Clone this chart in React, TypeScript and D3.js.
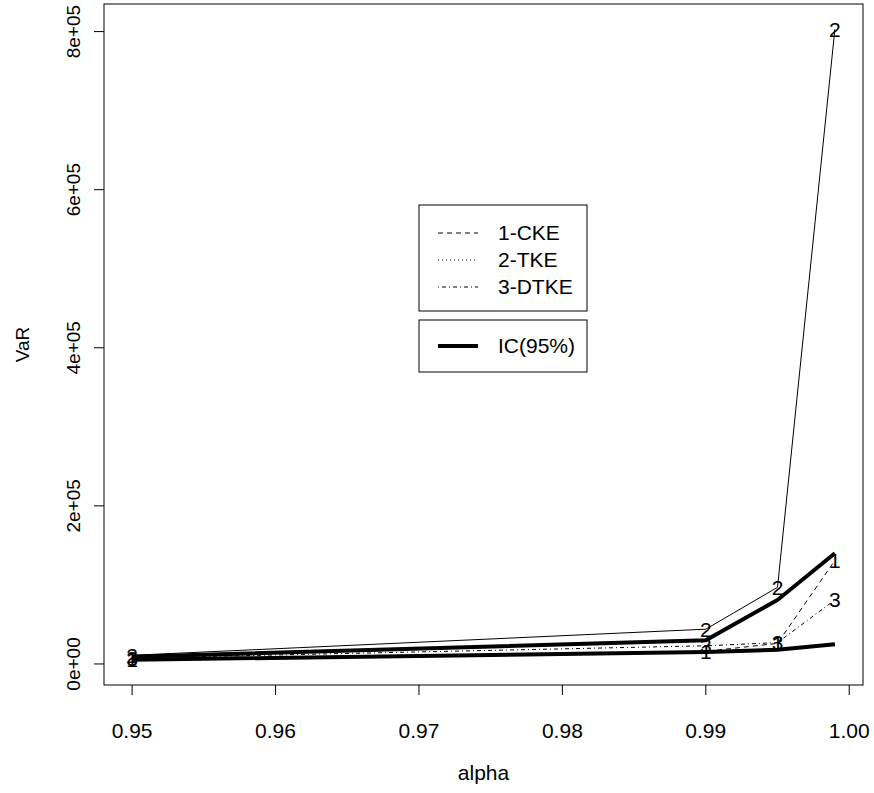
import React from "react";
import * as d3 from "d3";

// alpha levels
const alphas = [0.95, 0.99, 0.995, 0.999];

// VaR estimates per kernel estimator
const cke = [6000, 16000, 26000, 131000];
const tke = [11000, 44000, 97000, 803000];
const dtke = [7500, 23000, 27000, 81000];

// 95% confidence interval bounds
const icUpper = [9000, 30000, 81000, 140000];
const icLower = [5300, 15000, 18000, 25000];

const xTicks = [0.95, 0.96, 0.97, 0.98, 0.99, 1.0];
const yTicks = [0, 200000, 400000, 600000, 800000];

const width = 874;
const height = 793;
const box = { left: 104, right: 863, top: 4, bottom: 685 };
const font = "'Liberation Sans', Arial, sans-serif";
const fs = 21;

// R-style axis range: data range padded by 4% on each side
const pad = (lo: number, hi: number) => {
  const r = hi - lo;
  return [lo - 0.04 * r, hi + 0.04 * r];
};

const App = () => {
  const allY = [...cke, ...tke, ...dtke, ...icUpper, ...icLower];
  const xScale = d3
    .scaleLinear()
    .domain(pad(d3.min(alphas)!, d3.max(alphas)!))
    .range([box.left, box.right]);
  const yScale = d3
    .scaleLinear()
    .domain(pad(d3.min(allY)!, d3.max(allY)!))
    .range([box.bottom, box.top]);

  const line = d3
    .line<number>()
    .x((d, i) => xScale(alphas[i]))
    .y((d) => yScale(d));

  const series = [
    { label: "1", values: cke, dash: "5,4" },
    { label: "2", values: tke, dash: "none" },
    { label: "3", values: dtke, dash: "1,3,4,3" },
  ];

  const fmt = (v: number) => (v === 0 ? "0e+00" : `${v / 100000}e+05`);

  return (
    <svg width={width} height={height} style={{ display: "block", position: "absolute", left: 0, top: 0 }}>
      <rect x={0} y={0} width={width} height={height} fill="#fff" />

      {/* series lines */}
      {series.map((s) => (
        <path
          key={`l-${s.label}`}
          d={line(s.values) || ""}
          fill="none"
          stroke="#000"
          strokeWidth={1}
          strokeDasharray={s.dash}
        />
      ))}

      {/* confidence bounds */}
      {[icUpper, icLower].map((v, i) => (
        <path key={`ic-${i}`} d={line(v) || ""} fill="none" stroke="#000" strokeWidth={4} />
      ))}

      {/* point labels */}
      {series.map((s) =>
        s.values.map((v, i) => (
          <text
            key={`p-${s.label}-${i}`}
            x={xScale(alphas[i])}
            y={yScale(v)}
            textAnchor="middle"
            dominantBaseline="central"
            fontFamily={font}
            fontSize={fs}
            fill="#000"
          >
            {s.label}
          </text>
        ))
      )}

      {/* box */}
      <rect
        x={box.left}
        y={box.top}
        width={box.right - box.left}
        height={box.bottom - box.top}
        fill="none"
        stroke="#000"
        strokeWidth={1}
      />

      {/* x axis */}
      {xTicks.map((t) => (
        <g key={`x-${t}`}>
          <line x1={xScale(t)} x2={xScale(t)} y1={box.bottom} y2={box.bottom + 10} stroke="#000" />
          <text x={xScale(t)} y={738} textAnchor="middle" fontFamily={font} fontSize={fs} fill="#000">
            {t.toFixed(2)}
          </text>
        </g>
      ))}
      <text x={(box.left + box.right) / 2} y={780} textAnchor="middle" fontFamily={font} fontSize={fs} fill="#000">
        alpha
      </text>

      {/* y axis */}
      {yTicks.map((t) => (
        <g key={`y-${t}`}>
          <line x1={box.left - 10} x2={box.left} y1={yScale(t)} y2={yScale(t)} stroke="#000" />
          <text
            transform={`translate(80, ${yScale(t)}) rotate(-90)`}
            textAnchor="middle"
            fontFamily={font}
            fontSize={19}
            fill="#000"
          >
            {fmt(t)}
          </text>
        </g>
      ))}
      <text
        transform={`translate(29, ${(box.top + box.bottom) / 2}) rotate(-90)`}
        textAnchor="middle"
        fontFamily={font}
        fontSize={19}
        fill="#000"
      >
        VaR
      </text>

      {/* legend */}
      <g>
        <rect x={419} y={205} width={168} height={106} fill="#fff" stroke="#000" />
        {[
          { name: "1-CKE", dash: "5,4" },
          { name: "2-TKE", dash: "1,3" },
          { name: "3-DTKE", dash: "1,3,4,3" },
        ].map((d, i) => (
          <g key={d.name} transform={`translate(0, ${233 + i * 27})`}>
            <line x1={438} x2={478} y1={0} y2={0} stroke="#000" strokeDasharray={d.dash} />
            <text x={498} y={7} fontFamily={font} fontSize={fs} fill="#000">
              {d.name}
            </text>
          </g>
        ))}
        <rect x={419} y={320} width={168} height={52} fill="#fff" stroke="#000" />
        <line x1={438} x2={478} y1={346} y2={346} stroke="#000" strokeWidth={4} />
        <text x={498} y={353} fontFamily={font} fontSize={fs} fill="#000">
          IC(95%)
        </text>
      </g>
    </svg>
  );
};

export default App;
